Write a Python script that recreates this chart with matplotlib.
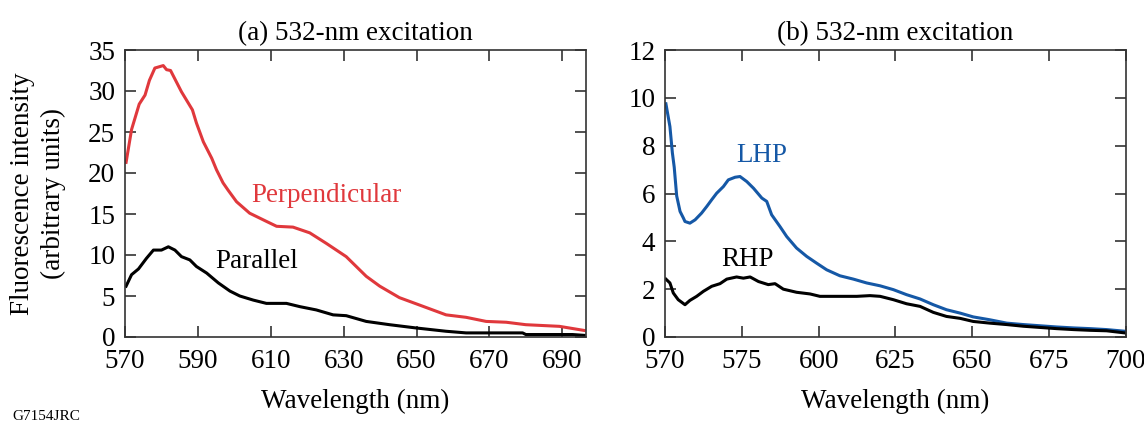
import matplotlib
matplotlib.use("Agg")
import matplotlib.pyplot as plt

plt.rcParams["font.family"] = ["Liberation Serif", "DejaVu Serif"]
plt.rcParams["mathtext.fontset"] = "stix"

# panel (a): 532-nm excitation, perpendicular / parallel
wl_perp = [570.3, 571.8, 573.9, 575.5, 576.7, 578.2, 580.5, 581.4, 582.5, 585.5,
           588.5, 589.6, 591.5, 593.8, 595.1, 596.9, 598.3, 600.6, 604.2, 608.8,
           611.6, 616.1, 620.7, 625.3, 630.7, 636.2, 639.9, 645.3, 650.8, 658.1,
           663.6, 669.1, 674.6, 680.0, 689.2, 696.0]
perp = [21.3, 25.3, 28.4, 29.5, 31.3, 32.8, 33.1, 32.6, 32.5, 29.9,
        27.7, 26.1, 23.8, 21.8, 20.4, 18.8, 17.9, 16.5, 15.1, 14.1,
        13.5, 13.4, 12.7, 11.4, 9.8, 7.4, 6.2, 4.8, 3.9, 2.7,
        2.4, 1.9, 1.8, 1.5, 1.3, 0.8]

wl_par = [570.3, 571.8, 573.7, 575.9, 577.8, 580.0, 581.9, 583.7, 585.5, 587.8,
          589.6, 592.4, 595.6, 598.8, 601.5, 605.2, 608.8, 614.3, 618.0, 622.5,
          627.1, 630.7, 636.2, 642.6, 649.9, 658.1, 663.6, 679.1, 680.0, 692.8,
          696.0]
par = [6.2, 7.6, 8.3, 9.6, 10.6, 10.6, 11.0, 10.6, 9.8, 9.4,
       8.6, 7.8, 6.6, 5.6, 5.0, 4.5, 4.1, 4.1, 3.7, 3.3,
       2.7, 2.6, 1.9, 1.5, 1.1, 0.7, 0.5, 0.5, 0.3, 0.3,
       0.2]

# panel (b): LHP / RHP
wl_lhp = [550.3, 551.6, 552.4, 553.0, 553.8, 554.9, 556.0, 556.5, 558.1, 559.8,
          561.9, 563.6, 565.2, 566.8, 569.0, 570.6, 572.8, 574.4, 576.6, 578.8,
          581.5, 583.1, 584.7, 587.4, 589.6, 592.8, 596.1, 599.3, 602.6, 606.9,
          611.3, 615.6, 620.0, 624.3, 628.6, 633.0, 637.3, 641.6, 646.0, 650.3,
          655.7, 661.2, 666.6, 672.0, 677.4, 682.9, 688.3, 693.7, 699.7]
lhp = [9.75, 8.8, 7.7, 7.1, 5.9, 5.25, 4.97, 4.83, 4.76, 4.9,
       5.18, 5.46, 5.74, 6.01, 6.29, 6.57, 6.68, 6.71, 6.50, 6.22,
       5.81, 5.67, 5.11, 4.62, 4.20, 3.72, 3.37, 3.09, 2.81, 2.56,
       2.42, 2.26, 2.14, 1.98, 1.77, 1.59, 1.35, 1.14, 1.00, 0.84,
       0.72, 0.58, 0.52, 0.47, 0.42, 0.38, 0.35, 0.31, 0.24]

wl_rhp = [550.3, 551.6, 552.7, 554.3, 556.5, 558.1, 560.3, 562.5, 565.2, 567.9,
          570.1, 573.3, 575.5, 577.7, 580.4, 583.6, 585.8, 588.5, 592.8, 597.2,
          600.4, 602.6, 606.9, 612.4, 616.7, 620.0, 624.3, 628.6, 633.0, 637.3,
          641.6, 646.0, 650.3, 655.7, 661.2, 666.6, 672.0, 677.4, 682.9, 688.3,
          693.7, 699.7]
rhp = [2.42, 2.26, 1.84, 1.56, 1.35, 1.53, 1.70, 1.91, 2.12, 2.23,
       2.42, 2.51, 2.46, 2.51, 2.32, 2.19, 2.23, 2.00, 1.87, 1.80,
       1.70, 1.70, 1.70, 1.70, 1.73, 1.70, 1.56, 1.39, 1.28, 1.03,
       0.86, 0.78, 0.65, 0.58, 0.52, 0.45, 0.40, 0.35, 0.31, 0.28,
       0.26, 0.17]

ticks_a = [570, 590, 610, 630, 650, 670, 690]
ticks_b = [550, 575, 600, 625, 650, 675, 700]
ticklabels_b = ["570", "575", "600", "625", "650", "675", "700"]

RED = "#e0383c"
BLUE = "#1558a6"
FS = 19.5

fig = plt.figure(figsize=(11.44, 4.25), dpi=100)
ax1 = fig.add_axes([125 / 1144, 88 / 425, 461 / 1144, 287 / 425])
ax2 = fig.add_axes([665 / 1144, 88 / 425, 461 / 1144, 287 / 425])

for ax in (ax1, ax2):
    ax.tick_params(direction="in", length=8, width=1.2, top=True, right=True,
                   labelsize=FS, color="#333333")
    ax.tick_params(axis="x", pad=9)
    ax.tick_params(axis="y", pad=7)
    for s in ax.spines.values():
        s.set_linewidth(1.2)
        s.set_color("#333333")

ax1.plot(wl_perp, perp, color=RED, lw=2.2)
ax1.plot(wl_par, par, color="black", lw=2.2)
ax1.set_xlim(570, 696.5)
ax1.set_ylim(0, 35)
ax1.set_xticks(ticks_a)
ax1.set_yticks(range(0, 36, 5))
ax1.set_title("(a) 532-nm excitation", fontsize=FS, pad=7)
ax1.set_xlabel("Wavelength (nm)", fontsize=FS, labelpad=10)
ax1.set_ylabel("Fluorescence intensity\n(arbitrary units)", fontsize=FS,
               labelpad=16, linespacing=1.3)
ax1.text(604.7, 17.3, "Perpendicular", color=RED, fontsize=FS, va="center")
ax1.text(594.7, 9.2, "Parallel", color="black", fontsize=FS, va="center")

ax2.plot(wl_lhp, lhp, color=BLUE, lw=2.2)
ax2.plot(wl_rhp, rhp, color="black", lw=2.2)
ax2.set_xlim(550, 700)
ax2.set_ylim(0, 12)
ax2.set_xticks(ticks_b)
ax2.set_xticklabels(ticklabels_b)
ax2.set_yticks(range(0, 13, 2))
ax2.set_title("(b) 532-nm excitation", fontsize=FS, pad=7)
ax2.set_xlabel("Wavelength (nm)", fontsize=FS, labelpad=10)
ax2.text(573.3, 7.57, "LHP", color=BLUE, fontsize=FS, va="center")
ax2.text(568.4, 3.26, "RHP", color="black", fontsize=FS, va="center")

fig.text(12 / 1144, 1 - 423 / 425, "G7154JRC", fontsize=11, va="bottom")

fig.savefig("out.png", dpi=100)
